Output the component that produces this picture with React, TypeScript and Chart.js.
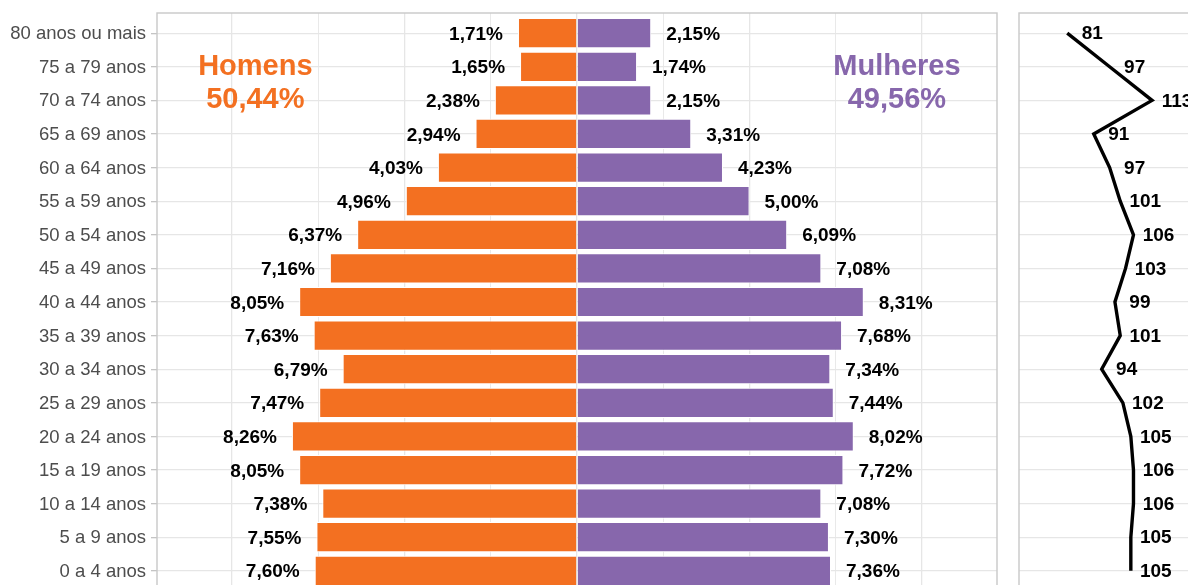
import React, { useEffect, useRef } from "react";
import { Chart, registerables } from "chart.js";

Chart.register(...registerables);

// ---- data (bottom row first) ----
const categories = [
  "0 a 4 anos",
  "5 a 9 anos",
  "10 a 14 anos",
  "15 a 19 anos",
  "20 a 24 anos",
  "25 a 29 anos",
  "30 a 34 anos",
  "35 a 39 anos",
  "40 a 44 anos",
  "45 a 49 anos",
  "50 a 54 anos",
  "55 a 59 anos",
  "60 a 64 anos",
  "65 a 69 anos",
  "70 a 74 anos",
  "75 a 79 anos",
  "80 anos ou mais",
];
const menPct = [7.6, 7.55, 7.38, 8.05, 8.26, 7.47, 6.79, 7.63, 8.05, 7.16, 6.37, 4.96, 4.03, 2.94, 2.38, 1.65, 1.71];
const womenPct = [7.36, 7.3, 7.08, 7.72, 8.02, 7.44, 7.34, 7.68, 8.31, 7.08, 6.09, 5.0, 4.23, 3.31, 2.15, 1.74, 2.15];
const sexRatio = [105, 105, 106, 106, 105, 102, 94, 101, 99, 103, 106, 101, 97, 91, 113, 97, 81];
const xGridValues = [-10, -7.5, -5, -2.5, 0, 2.5, 5, 7.5, 10];
const menTitle = ["Homens", "50,44%"];
const womenTitle = ["Mulheres", "49,56%"];

const ORANGE = "#F37021";
const PURPLE = "#8767AC";
const GRID = "#e6e6e6";
const BORDER = "#c8c8c8";
const FONT = '"Liberation Sans", Arial, Helvetica, sans-serif';

const fmt = (v: number) => v.toFixed(2).replace(".", ",") + "%";

const borderPlugin = {
  id: "panelBorder",
  afterDatasetsDraw(chart: any) {
    const { ctx, chartArea } = chart;
    ctx.save();
    ctx.strokeStyle = BORDER;
    ctx.lineWidth = 1.4;
    ctx.strokeRect(chartArea.left, chartArea.top, chartArea.right - chartArea.left, chartArea.bottom - chartArea.top);
    ctx.restore();
  },
};

const pyramidLabels = {
  id: "pyramidLabels",
  afterDatasetsDraw(chart: any) {
    const { ctx } = chart;
    const xs = chart.scales.x;
    const ys = chart.scales.y;
    ctx.save();
    ctx.font = `bold 19px ${FONT}`;
    ctx.fillStyle = "#000";
    ctx.textBaseline = "middle";
    categories.forEach((_, i) => {
      const y = ys.getPixelForValue(i) + 1.3;
      ctx.textAlign = "right";
      ctx.fillText(fmt(menPct[i]), xs.getPixelForValue(-menPct[i]) - 15, y);
      ctx.textAlign = "left";
      ctx.fillText(fmt(womenPct[i]), xs.getPixelForValue(womenPct[i]) + 15, y);
    });
    ctx.font = `bold 29px ${FONT}`;
    ctx.textAlign = "center";
    ctx.fillStyle = ORANGE;
    ctx.fillText(menTitle[0], xs.getPixelForValue(-9.32), ys.getPixelForValue(15));
    ctx.fillText(menTitle[1], xs.getPixelForValue(-9.32), ys.getPixelForValue(14));
    ctx.fillStyle = PURPLE;
    ctx.fillText(womenTitle[0], xs.getPixelForValue(9.27), ys.getPixelForValue(15));
    ctx.fillText(womenTitle[1], xs.getPixelForValue(9.27), ys.getPixelForValue(14));
    ctx.restore();
  },
};

const ratioLabels = {
  id: "ratioLabels",
  afterDatasetsDraw(chart: any) {
    const { ctx } = chart;
    const xs = chart.scales.x;
    const ys = chart.scales.y;
    ctx.save();
    ctx.font = `bold 19px ${FONT}`;
    ctx.fillStyle = "#000";
    ctx.textBaseline = "middle";
    ctx.textAlign = "center";
    sexRatio.forEach((v, i) => {
      ctx.fillText(String(v), xs.getPixelForValue(v) + 25, ys.getPixelForValue(i) + 1);
    });
    ctx.restore();
  },
};

const yRowTicks = (s: any) => {
  s.ticks = categories.map((_, i) => ({ value: i }));
};

export default function App() {
  const ref1 = useRef<HTMLCanvasElement>(null);
  const ref2 = useRef<HTMLCanvasElement>(null);

  useEffect(() => {
    Chart.defaults.font.family = FONT;
    const c1 = new Chart(ref1.current as HTMLCanvasElement, {
      type: "bar",
      data: {
        datasets: [
          {
            label: "Homens",
            data: menPct.map((v, i) => ({ x: -v, y: i })),
            backgroundColor: ORANGE,
            borderColor: "#ffffff",
            borderWidth: 1,
            grouped: false,
            barPercentage: 0.9,
            categoryPercentage: 1,
          },
          {
            label: "Mulheres",
            data: womenPct.map((v, i) => ({ x: v, y: i })),
            backgroundColor: PURPLE,
            borderColor: "#ffffff",
            borderWidth: 1,
            grouped: false,
            barPercentage: 0.9,
            categoryPercentage: 1,
          },
        ],
      } as any,
      options: {
        indexAxis: "y",
        animation: false,
        responsive: false,
        devicePixelRatio: 1,
        layout: { padding: { top: 13, left: 0, right: 3, bottom: 9 } },
        plugins: { legend: { display: false }, tooltip: { enabled: false } },
        scales: {
          x: {
            type: "linear",
            min: -12.17,
            max: 12.17,
            offset: false,
            afterBuildTicks: (s: any) => {
              s.ticks = xGridValues.map((v) => ({ value: v }));
            },
            afterFit: (s: any) => {
              s.height = 0;
              s.paddingLeft = 0;
              s.paddingRight = 0;
            },
            ticks: { display: false, autoSkip: false },
            grid: {
              offset: false,
              color: GRID,
              lineWidth: (c: any) => (c.tick && c.tick.value % 5 === 0 ? 1.3 : 0.9),
              drawTicks: false,
            },
            border: { display: false },
          },
          y: {
            type: "linear",
            min: -0.6,
            max: 16.6,
            offset: false,
            afterBuildTicks: yRowTicks,
            afterFit: (s: any) => {
              s.width = 157;
              s.paddingTop = 0;
              s.paddingBottom = 0;
            },
            ticks: {
              autoSkip: false,
              padding: 5,
              labelOffset: 1,
              color: "#4d4d4d",
              font: { size: 18.5, family: FONT },
              callback: (v: any) => categories[v as number] ?? "",
            },
            grid: { offset: false, color: GRID, lineWidth: 1.3, tickLength: 6, tickColor: "#c4c4c4", drawTicks: true },
            border: { display: false },
          },
        },
      } as any,
      plugins: [borderPlugin, pyramidLabels],
    });

    const c2 = new Chart(ref2.current as HTMLCanvasElement, {
      type: "line",
      data: {
        datasets: [
          {
            label: "Razão de sexo",
            data: sexRatio.map((v, i) => ({ x: v, y: i })),
            borderColor: "#000",
            borderWidth: 3.4,
            pointRadius: 0,
            tension: 0,
            fill: false,
          },
        ],
      } as any,
      options: {
        indexAxis: "y",
        animation: false,
        responsive: false,
        devicePixelRatio: 1,
        layout: { padding: { top: 13, left: 0, right: 0, bottom: 9 } },
        plugins: { legend: { display: false }, tooltip: { enabled: false } },
        scales: {
          x: {
            type: "linear",
            min: 62.8,
            max: 131.1,
            offset: false,
            afterFit: (s: any) => {
              s.height = 0;
            },
            ticks: { display: false },
            grid: { display: false },
            border: { display: false },
          },
          y: {
            type: "linear",
            min: -0.6,
            max: 16.6,
            offset: false,
            afterBuildTicks: yRowTicks,
            afterFit: (s: any) => {
              s.width = 19;
              s.paddingTop = 0;
              s.paddingBottom = 0;
            },
            ticks: { display: false },
            grid: { offset: false, color: GRID, lineWidth: 1.3, drawTicks: false },
            border: { display: false },
          },
        },
      } as any,
      plugins: [borderPlugin, ratioLabels],
    });

    return () => {
      c1.destroy();
      c2.destroy();
    };
  }, []);

  return (
    <div
      style={{
        position: "fixed",
        left: 0,
        top: 0,
        width: 1188,
        height: 585,
        overflow: "hidden",
        background: "#ffffff",
      }}
    >
      <canvas ref={ref1} width={1000} height={600} style={{ position: "absolute", left: 0, top: 0 }} />
      <canvas ref={ref2} width={200} height={600} style={{ position: "absolute", left: 1000, top: 0 }} />
    </div>
  );
}
